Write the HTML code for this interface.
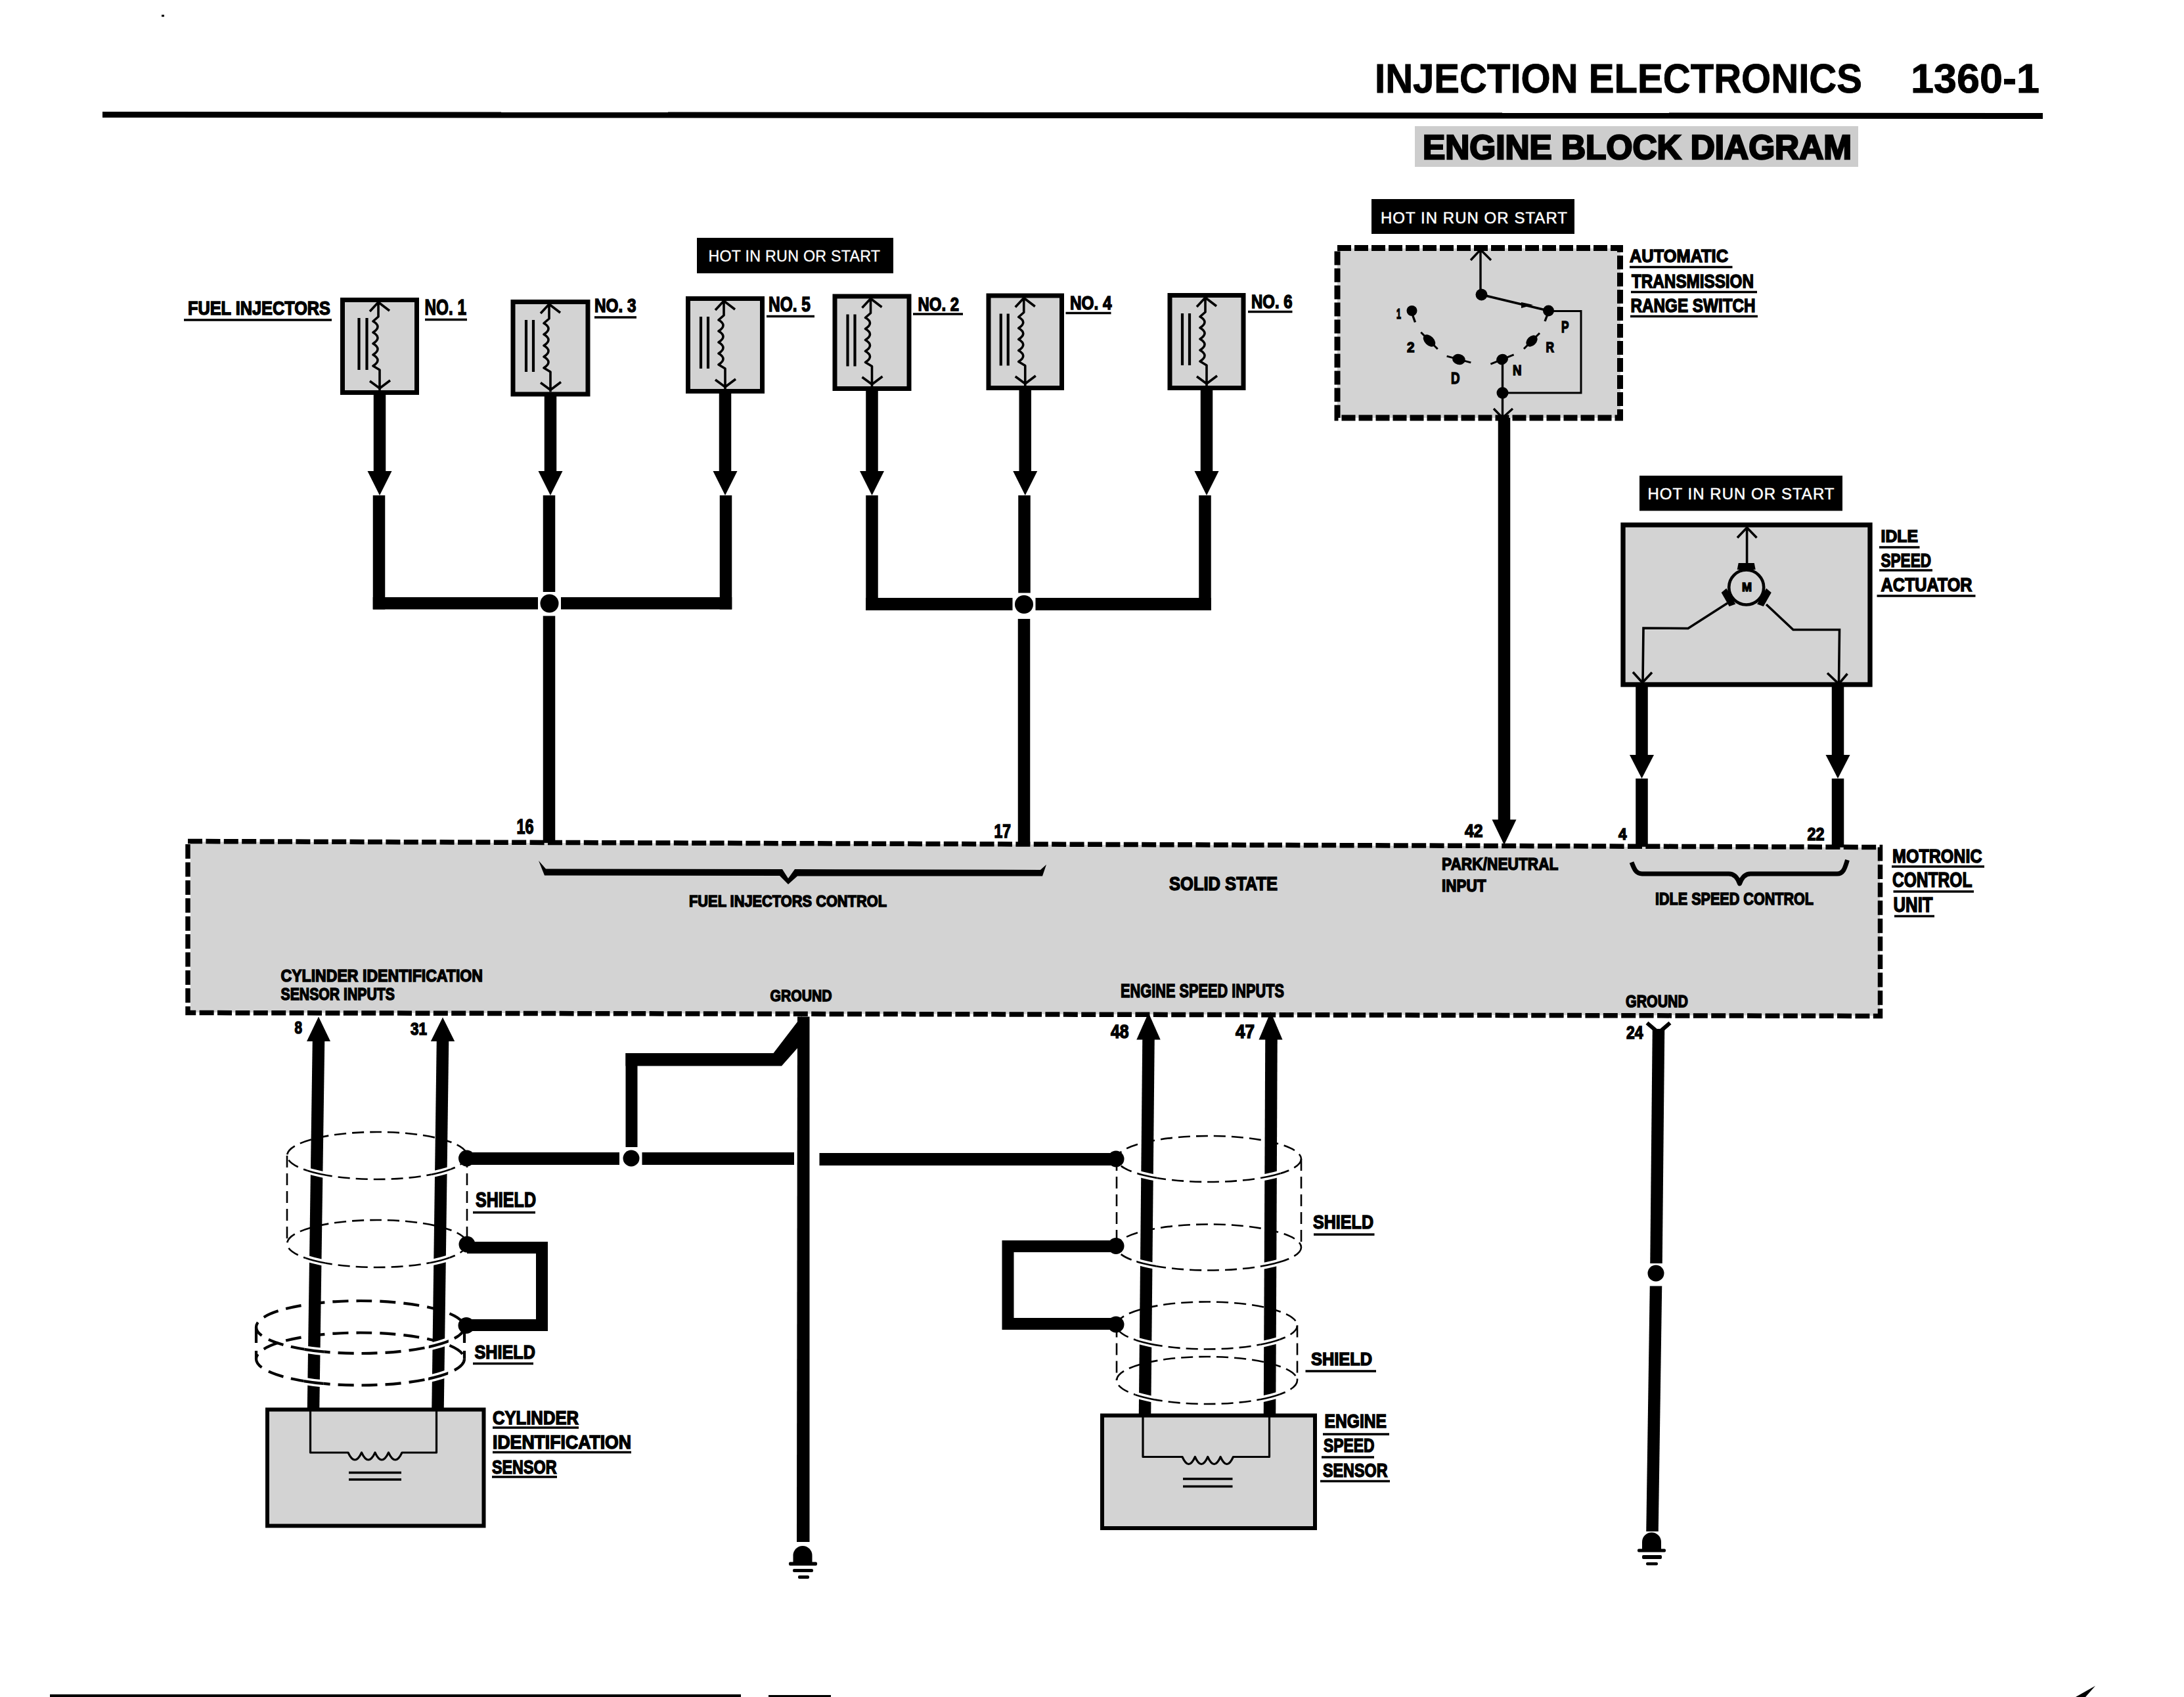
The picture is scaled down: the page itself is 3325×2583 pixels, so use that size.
<!DOCTYPE html>
<html><head><meta charset="utf-8"><title>Engine Block Diagram</title>
<style>
html,body{margin:0;padding:0;background:#fff;}
body{width:3325px;height:2583px;position:relative;overflow:hidden;font-family:"Liberation Sans",sans-serif;}
</style></head><body>
<svg width="3325" height="2583" viewBox="0 0 3325 2583" style="position:absolute;left:0;top:0" font-family="Liberation Sans, sans-serif">
<rect x="0" y="0" width="3325" height="2583" fill="#fff"/>
<text x="2093" y="141" font-size="62.50" font-weight="bold" fill="#000" stroke="#000" stroke-width="0.9" textLength="742" lengthAdjust="spacingAndGlyphs">INJECTION ELECTRONICS</text>
<text x="2909" y="141" font-size="62.50" font-weight="bold" fill="#000" stroke="#000" stroke-width="0.9" textLength="196" lengthAdjust="spacingAndGlyphs">1360-1</text>
<polygon points="156,170 3110,172 3110,181 156,179" fill="#000"/>
<rect x="2154" y="192" width="675" height="62" fill="#cdcdcd"/>
<text x="2166" y="242" font-size="51.60" font-weight="bold" fill="#000" stroke="#000" stroke-width="2.6" textLength="653" lengthAdjust="spacingAndGlyphs">ENGINE BLOCK DIAGRAM</text>
<rect x="568.75" y="599" width="18.5" height="119" fill="#000"/>
<polygon points="559.5,717 596.5,717 578.0,754" fill="#000"/>
<rect x="521.5" y="456.5" width="113" height="141" fill="#d3d3d3" stroke="#000" stroke-width="7"/>
<line x1="546.5" y1="484" x2="546.5" y2="563" stroke="#000" stroke-width="4.2" stroke-linecap="butt"/>
<line x1="558.5" y1="484" x2="558.5" y2="563" stroke="#000" stroke-width="4.2" stroke-linecap="butt"/>
<path d="M563.0,474 L576.0,460 L593.0,473 M576.0,460 L576.0,482 L568.0,489 Q582.0,497 568.0,506 Q582.0,514 568.0,523 Q582.0,531 568.0,540 Q582.0,548 568.0,557 L578.0,563 L578.0,594 M563.0,580 L578.0,591 L594.0,579" fill="none" stroke="#000" stroke-width="3.6" stroke-linecap="butt" stroke-linejoin="round"/>
<text x="646.5" y="479" font-size="33.43" font-weight="bold" fill="#000" stroke="#000" stroke-width="1.5" textLength="63.5" lengthAdjust="spacingAndGlyphs">NO. 1</text>
<rect x="647" y="484.75" width="64" height="3.5"/>
<rect x="828.75" y="601.5" width="18.5" height="116.5" fill="#000"/>
<polygon points="819.5,717 856.5,717 838.0,754" fill="#000"/>
<rect x="781.0" y="459.5" width="114.0" height="140.5" fill="#d3d3d3" stroke="#000" stroke-width="7"/>
<line x1="801.0" y1="487" x2="801.0" y2="566" stroke="#000" stroke-width="4.2" stroke-linecap="butt"/>
<line x1="812.0" y1="487" x2="812.0" y2="566" stroke="#000" stroke-width="4.2" stroke-linecap="butt"/>
<path d="M823.0,477 L836.0,463 L853.0,476 M836.0,463 L836.0,485 L828.0,492 Q842.0,500 828.0,509 Q842.0,517 828.0,526 Q842.0,534 828.0,543 Q842.0,551 828.0,560 L838.0,566 L838.0,596.5 M823.0,582.5 L838.0,593.5 L854.0,581.5" fill="none" stroke="#000" stroke-width="3.6" stroke-linecap="butt" stroke-linejoin="round"/>
<text x="905" y="475" font-size="29.07" font-weight="bold" fill="#000" stroke="#000" stroke-width="1.5" textLength="63.5" lengthAdjust="spacingAndGlyphs">NO. 3</text>
<rect x="905" y="481.25" width="64" height="3.5"/>
<rect x="1094.75" y="597" width="18.5" height="121" fill="#000"/>
<polygon points="1085.5,717 1122.5,717 1104.0,754" fill="#000"/>
<rect x="1047.5" y="454.5" width="113" height="141" fill="#d3d3d3" stroke="#000" stroke-width="7"/>
<line x1="1067.0" y1="482" x2="1067.0" y2="561" stroke="#000" stroke-width="4.2" stroke-linecap="butt"/>
<line x1="1078.0" y1="482" x2="1078.0" y2="561" stroke="#000" stroke-width="4.2" stroke-linecap="butt"/>
<path d="M1089.0,472 L1102.0,458 L1119.0,471 M1102.0,458 L1102.0,480 L1094.0,487 Q1108.0,495 1094.0,504 Q1108.0,512 1094.0,521 Q1108.0,529 1094.0,538 Q1108.0,546 1094.0,555 L1104.0,561 L1104.0,592 M1089.0,578 L1104.0,589 L1120.0,577" fill="none" stroke="#000" stroke-width="3.6" stroke-linecap="butt" stroke-linejoin="round"/>
<text x="1170" y="474" font-size="30.52" font-weight="bold" fill="#000" stroke="#000" stroke-width="1.5" textLength="64" lengthAdjust="spacingAndGlyphs">NO. 5</text>
<rect x="1167" y="479.75" width="73" height="3.5"/>
<rect x="1318.25" y="593" width="18.5" height="125" fill="#000"/>
<polygon points="1309.0,717 1346.0,717 1327.5,754" fill="#000"/>
<rect x="1271.0" y="451.0" width="113.0" height="140.5" fill="#d3d3d3" stroke="#000" stroke-width="7"/>
<line x1="1290.5" y1="478.5" x2="1290.5" y2="557.5" stroke="#000" stroke-width="4.2" stroke-linecap="butt"/>
<line x1="1301.5" y1="478.5" x2="1301.5" y2="557.5" stroke="#000" stroke-width="4.2" stroke-linecap="butt"/>
<path d="M1312.5,468.5 L1325.5,454.5 L1342.5,467.5 M1325.5,454.5 L1325.5,476.5 L1317.5,483.5 Q1331.5,491.5 1317.5,500.5 Q1331.5,508.5 1317.5,517.5 Q1331.5,525.5 1317.5,534.5 Q1331.5,542.5 1317.5,551.5 L1327.5,557.5 L1327.5,588 M1312.5,574 L1327.5,585 L1343.5,573" fill="none" stroke="#000" stroke-width="3.6" stroke-linecap="butt" stroke-linejoin="round"/>
<text x="1397.5" y="472.5" font-size="29.07" font-weight="bold" fill="#000" stroke="#000" stroke-width="1.5" textLength="62.5" lengthAdjust="spacingAndGlyphs">NO. 2</text>
<rect x="1390" y="476.25" width="76" height="3.5"/>
<rect x="1551.5" y="592" width="18.5" height="126" fill="#000"/>
<polygon points="1542.25,717 1579.25,717 1560.75,754" fill="#000"/>
<rect x="1505.0" y="450.0" width="111.5" height="140.5" fill="#d3d3d3" stroke="#000" stroke-width="7"/>
<line x1="1523.75" y1="477.5" x2="1523.75" y2="556.5" stroke="#000" stroke-width="4.2" stroke-linecap="butt"/>
<line x1="1534.75" y1="477.5" x2="1534.75" y2="556.5" stroke="#000" stroke-width="4.2" stroke-linecap="butt"/>
<path d="M1545.75,467.5 L1558.75,453.5 L1575.75,466.5 M1558.75,453.5 L1558.75,475.5 L1550.75,482.5 Q1564.75,490.5 1550.75,499.5 Q1564.75,507.5 1550.75,516.5 Q1564.75,524.5 1550.75,533.5 Q1564.75,541.5 1550.75,550.5 L1560.75,556.5 L1560.75,587 M1545.75,573 L1560.75,584 L1576.75,572" fill="none" stroke="#000" stroke-width="3.6" stroke-linecap="butt" stroke-linejoin="round"/>
<text x="1629" y="471" font-size="29.07" font-weight="bold" fill="#000" stroke="#000" stroke-width="1.5" textLength="63.5" lengthAdjust="spacingAndGlyphs">NO. 4</text>
<rect x="1622.5" y="474.75" width="69.0" height="3.5"/>
<rect x="1827.75" y="592" width="18.5" height="126" fill="#000"/>
<polygon points="1818.5,717 1855.5,717 1837.0,754" fill="#000"/>
<rect x="1781.0" y="449.5" width="112.0" height="141" fill="#d3d3d3" stroke="#000" stroke-width="7"/>
<line x1="1800.0" y1="477" x2="1800.0" y2="556" stroke="#000" stroke-width="4.2" stroke-linecap="butt"/>
<line x1="1811.0" y1="477" x2="1811.0" y2="556" stroke="#000" stroke-width="4.2" stroke-linecap="butt"/>
<path d="M1822.0,467 L1835.0,453 L1852.0,466 M1835.0,453 L1835.0,475 L1827.0,482 Q1841.0,490 1827.0,499 Q1841.0,507 1827.0,516 Q1841.0,524 1827.0,533 Q1841.0,541 1827.0,550 L1837.0,556 L1837.0,587 M1822.0,573 L1837.0,584 L1853.0,572" fill="none" stroke="#000" stroke-width="3.6" stroke-linecap="butt" stroke-linejoin="round"/>
<text x="1905" y="469" font-size="29.07" font-weight="bold" fill="#000" stroke="#000" stroke-width="1.5" textLength="62.5" lengthAdjust="spacingAndGlyphs">NO. 6</text>
<rect x="1900" y="472.75" width="67.5" height="3.5"/>
<text x="286" y="479" font-size="29.80" font-weight="bold" fill="#000" stroke="#000" stroke-width="1.5" textLength="217" lengthAdjust="spacingAndGlyphs">FUEL INJECTORS</text>
<rect x="280" y="485.25" width="225" height="3.5"/>
<rect x="1061" y="362" width="299" height="54" fill="#000"/>
<text x="1078.5" y="398" font-size="23.26" font-weight="normal" fill="#fff" stroke="#fff" stroke-width="0.3" textLength="261.5" lengthAdjust="spacing">HOT IN RUN OR START</text>
<rect x="567.75" y="754" width="18.5" height="173.5" fill="#000"/>
<rect x="1095.75" y="754" width="18.5" height="173.5" fill="#000"/>
<rect x="567.75" y="909" width="251.25" height="18.5" fill="#000"/>
<rect x="854.0" y="909" width="260.25" height="18.5" fill="#000"/>
<rect x="826.75" y="754" width="18.5" height="147.0" fill="#000"/>
<circle cx="836.5" cy="918.5" r="14"/>
<rect x="826.75" y="937.5" width="18.5" height="345.5" fill="#000"/>
<rect x="1318.25" y="754" width="18.5" height="175" fill="#000"/>
<rect x="1825.25" y="754" width="18.5" height="175" fill="#000"/>
<rect x="1318.25" y="910" width="223.25" height="19" fill="#000"/>
<rect x="1576.5" y="910" width="267.25" height="19" fill="#000"/>
<rect x="1550.25" y="754" width="18.5" height="148.5" fill="#000"/>
<circle cx="1559" cy="920" r="14"/>
<rect x="1549.75" y="942" width="18.5" height="344" fill="#000"/>
<rect x="2088" y="303" width="309" height="53" fill="#000"/>
<text x="2102" y="340" font-size="23.98" font-weight="normal" fill="#fff" stroke="#fff" stroke-width="0.5" textLength="284" lengthAdjust="spacing">HOT IN RUN OR START</text>
<rect x="2036" y="378" width="431" height="258" fill="#d3d3d3"/>
<path d="M2036,377.5 L2466.5,377.5 L2466.5,636 L2036,636 Z" fill="none" stroke="#000" stroke-width="9" stroke-linecap="butt" stroke-linejoin="miter" stroke-dasharray="21 5"/>
<path d="M2239,396 L2254,380 L2270,396 M2254,380 L2254,448" fill="none" stroke="#000" stroke-width="3.4" stroke-linecap="butt" stroke-linejoin="miter"/>
<circle cx="2255.5" cy="448.5" r="9"/>
<path d="M2255.5,448.5 L2357.5,473" fill="none" stroke="#000" stroke-width="3.6" stroke-linecap="butt" stroke-linejoin="miter"/>
<polygon points="2316,460 2334,464 2316,469" fill="#000"/>
<circle cx="2357.5" cy="473" r="8.5"/>
<path d="M2357,476 L2352,489" fill="none" stroke="#000" stroke-width="3.4" stroke-linecap="butt" stroke-linejoin="miter"/>
<path d="M2365,473.5 L2407,473.5 L2407,598 L2287.5,598" fill="none" stroke="#000" stroke-width="3" stroke-linecap="butt" stroke-linejoin="miter"/>
<circle cx="2287.5" cy="598" r="9"/>
<path d="M2287.5,547 L2287.5,640" fill="none" stroke="#000" stroke-width="3.4" stroke-linecap="butt" stroke-linejoin="miter"/>
<path d="M2274,622 L2287.5,636 L2303,622" fill="none" stroke="#000" stroke-width="3.4" stroke-linecap="butt" stroke-linejoin="miter"/>
<circle cx="2149.5" cy="473" r="8"/>
<path d="M2150,478 L2154.5,490.5" fill="none" stroke="#000" stroke-width="3.4" stroke-linecap="butt" stroke-linejoin="miter"/>
<g transform="translate(2176,518.5) rotate(45)"><ellipse cx="0" cy="0" rx="11" ry="7"/><line x1="-18" y1="0" x2="18" y2="0" stroke="#000" stroke-width="3"/></g>
<g transform="translate(2221,547) rotate(15)"><ellipse cx="0" cy="0" rx="10" ry="8"/><line x1="-19" y1="0" x2="19" y2="0" stroke="#000" stroke-width="3"/></g>
<g transform="translate(2287,547) rotate(-22)"><ellipse cx="0" cy="0" rx="9" ry="8"/><line x1="-19" y1="0" x2="19" y2="0" stroke="#000" stroke-width="3"/></g>
<g transform="translate(2332,519) rotate(-45)"><ellipse cx="0" cy="0" rx="10" ry="7"/><line x1="-17" y1="0" x2="17" y2="0" stroke="#000" stroke-width="3"/></g>
<text x="2126" y="485" font-size="21.80" font-weight="bold" fill="#000" stroke="#000" stroke-width="1.5" textLength="7" lengthAdjust="spacingAndGlyphs">1</text>
<text x="2142" y="536" font-size="22.53" font-weight="bold" fill="#000" stroke="#000" stroke-width="1.5" textLength="11.5" lengthAdjust="spacingAndGlyphs">2</text>
<text x="2209" y="584" font-size="24.71" font-weight="bold" fill="#000" stroke="#000" stroke-width="1.5" textLength="13.5" lengthAdjust="spacingAndGlyphs">D</text>
<text x="2303" y="571" font-size="22.53" font-weight="bold" fill="#000" stroke="#000" stroke-width="1.5" textLength="13.5" lengthAdjust="spacingAndGlyphs">N</text>
<text x="2353.5" y="536" font-size="22.53" font-weight="bold" fill="#000" stroke="#000" stroke-width="1.5" textLength="12.5" lengthAdjust="spacingAndGlyphs">R</text>
<text x="2377" y="506" font-size="23.26" font-weight="bold" fill="#000" stroke="#000" stroke-width="1.5" textLength="11.5" lengthAdjust="spacingAndGlyphs">P</text>
<text x="2481" y="399" font-size="27.62" font-weight="bold" fill="#000" stroke="#000" stroke-width="1.5" textLength="150" lengthAdjust="spacingAndGlyphs">AUTOMATIC</text>
<rect x="2481" y="404.75" width="156.5" height="3.5"/>
<text x="2484" y="437.5" font-size="29.07" font-weight="bold" fill="#000" stroke="#000" stroke-width="1.5" textLength="186" lengthAdjust="spacingAndGlyphs">TRANSMISSION</text>
<rect x="2483" y="442.75" width="192" height="3.5"/>
<text x="2482.5" y="475" font-size="29.07" font-weight="bold" fill="#000" stroke="#000" stroke-width="1.5" textLength="190.0" lengthAdjust="spacingAndGlyphs">RANGE SWITCH</text>
<rect x="2482" y="479.75" width="194" height="3.5"/>
<rect x="2280.75" y="636" width="18.5" height="612" fill="#000"/>
<polygon points="2271.5,1247.5 2308.5,1247.5 2290,1286" fill="#000"/>
<rect x="2496" y="724" width="309" height="53.5" fill="#000"/>
<text x="2508.5" y="759.5" font-size="23.98" font-weight="normal" fill="#fff" stroke="#fff" stroke-width="0.5" textLength="284.0" lengthAdjust="spacing">HOT IN RUN OR START</text>
<rect x="2490.25" y="1040" width="18.5" height="110" fill="#000"/>
<polygon points="2481.0,1149 2518.0,1149 2499.5,1185" fill="#000"/>
<rect x="2788.75" y="1040" width="18.5" height="110" fill="#000"/>
<polygon points="2779.5,1149 2816.5,1149 2798,1185" fill="#000"/>
<rect x="2490.25" y="1185" width="18.5" height="106" fill="#000"/>
<rect x="2788.75" y="1185" width="18.5" height="106" fill="#000"/>
<rect x="2471" y="799" width="376" height="243" fill="#d3d3d3" stroke="#000" stroke-width="7.3"/>
<path d="M2645,818.5 L2659.6,803 L2674.5,818.5 M2659.6,803 L2659.6,866" fill="none" stroke="#000" stroke-width="3.6" stroke-linecap="butt" stroke-linejoin="miter"/>
<circle cx="2658.7" cy="894" r="26.5" fill="none" stroke="#000" stroke-width="4.6"/>
<g transform="translate(2658.7,894) rotate(-90)"><path d="M27,-14 L37,-12 L37,12 L27,14 Z"/></g>
<g transform="translate(2658.7,894) rotate(150)"><path d="M27,-14 L37,-12 L37,12 L27,14 Z"/></g>
<g transform="translate(2658.7,894) rotate(30)"><path d="M27,-14 L37,-12 L37,12 L27,14 Z"/></g>
<path d="M2630,918 L2570,956.5 L2502,956 L2501,1039" fill="none" stroke="#000" stroke-width="3.6" stroke-linecap="butt" stroke-linejoin="miter"/>
<path d="M2486,1023 L2500.5,1039 L2515,1023.5" fill="none" stroke="#000" stroke-width="3.6" stroke-linecap="butt" stroke-linejoin="miter"/>
<path d="M2689,920 L2730,958.5 L2800.5,958.5 L2799.5,1041" fill="none" stroke="#000" stroke-width="3.6" stroke-linecap="butt" stroke-linejoin="miter"/>
<path d="M2782,1024.5 L2799.5,1041 L2812.5,1025.5" fill="none" stroke="#000" stroke-width="3.6" stroke-linecap="butt" stroke-linejoin="miter"/>
<text x="2652" y="900" font-size="18.17" font-weight="bold" fill="#000" stroke="#000" stroke-width="1.5" textLength="15" lengthAdjust="spacingAndGlyphs">M</text>
<text x="2863.5" y="825" font-size="25.44" font-weight="bold" fill="#000" stroke="#000" stroke-width="1.5" textLength="56.5" lengthAdjust="spacingAndGlyphs">IDLE</text>
<rect x="2861" y="831.25" width="61.5" height="3.5"/>
<text x="2863.5" y="862.5" font-size="29.07" font-weight="bold" fill="#000" stroke="#000" stroke-width="1.5" textLength="76.5" lengthAdjust="spacingAndGlyphs">SPEED</text>
<rect x="2861" y="866.25" width="81" height="3.5"/>
<text x="2863.5" y="900" font-size="29.07" font-weight="bold" fill="#000" stroke="#000" stroke-width="1.5" textLength="139.0" lengthAdjust="spacingAndGlyphs">ACTUATOR</text>
<rect x="2857.5" y="905.25" width="150.0" height="3.5"/>
<polygon points="290,1281 2862,1290 2862,1546 290,1541" fill="#d3d3d3"/>
<path d="M286,1280.5 L2862.5,1289.5 L2862.5,1546.5 L286,1541.5 Z" fill="none" stroke="#000" stroke-width="7.5" stroke-linecap="butt" stroke-linejoin="miter" stroke-dasharray="22 5.4"/>
<text x="786.5" y="1268.5" font-size="30.52" font-weight="bold" fill="#000" stroke="#000" stroke-width="1.5" textLength="26.0" lengthAdjust="spacingAndGlyphs">16</text>
<text x="1513.5" y="1275" font-size="29.07" font-weight="bold" fill="#000" stroke="#000" stroke-width="1.5" textLength="25.5" lengthAdjust="spacingAndGlyphs">17</text>
<text x="2230" y="1274" font-size="27.62" font-weight="bold" fill="#000" stroke="#000" stroke-width="1.5" textLength="27.5" lengthAdjust="spacingAndGlyphs">42</text>
<text x="2464" y="1277.5" font-size="23.98" font-weight="bold" fill="#000" stroke="#000" stroke-width="1.5" textLength="12.5" lengthAdjust="spacingAndGlyphs">4</text>
<text x="2751.5" y="1279" font-size="27.62" font-weight="bold" fill="#000" stroke="#000" stroke-width="1.5" textLength="26.0" lengthAdjust="spacingAndGlyphs">22</text>
<polygon points="820,1310 831,1322.5 1191,1323 1200,1337 1210,1323 1584,1324 1593,1316 1587,1333.5 1214,1333.5 1200,1346 1187,1333 829,1332.5" fill="#000"/>
<path d="M2484,1312.5 C2488,1322 2490,1330 2500,1330 L2632,1330 C2642,1330 2646,1338 2648.5,1345 C2651,1338 2655,1330 2665,1330 L2797,1330 C2807,1330 2809,1320 2812.5,1309" fill="none" stroke="#000" stroke-width="7" stroke-linecap="butt" stroke-linejoin="round"/>
<text x="1049" y="1380" font-size="23.98" font-weight="bold" fill="#000" stroke="#000" stroke-width="1.5" textLength="301" lengthAdjust="spacingAndGlyphs">FUEL INJECTORS CONTROL</text>
<text x="1780" y="1355" font-size="29.07" font-weight="bold" fill="#000" stroke="#000" stroke-width="1.5" textLength="165" lengthAdjust="spacingAndGlyphs">SOLID STATE</text>
<text x="2195" y="1324" font-size="25.44" font-weight="bold" fill="#000" stroke="#000" stroke-width="1.5" textLength="177.5" lengthAdjust="spacingAndGlyphs">PARK/NEUTRAL</text>
<text x="2195" y="1356.5" font-size="25.44" font-weight="bold" fill="#000" stroke="#000" stroke-width="1.5" textLength="67.5" lengthAdjust="spacingAndGlyphs">INPUT</text>
<text x="2520" y="1376.5" font-size="25.44" font-weight="bold" fill="#000" stroke="#000" stroke-width="1.5" textLength="241" lengthAdjust="spacingAndGlyphs">IDLE SPEED CONTROL</text>
<text x="427.5" y="1493.5" font-size="25.44" font-weight="bold" fill="#000" stroke="#000" stroke-width="1.5" textLength="307.5" lengthAdjust="spacingAndGlyphs">CYLINDER IDENTIFICATION</text>
<text x="427.5" y="1521.5" font-size="25.44" font-weight="bold" fill="#000" stroke="#000" stroke-width="1.5" textLength="173.5" lengthAdjust="spacingAndGlyphs">SENSOR INPUTS</text>
<text x="1172.5" y="1524" font-size="23.98" font-weight="bold" fill="#000" stroke="#000" stroke-width="1.5" textLength="94.0" lengthAdjust="spacingAndGlyphs">GROUND</text>
<text x="1706" y="1517.5" font-size="29.07" font-weight="bold" fill="#000" stroke="#000" stroke-width="1.5" textLength="249" lengthAdjust="spacingAndGlyphs">ENGINE SPEED INPUTS</text>
<text x="2475" y="1532.5" font-size="25.44" font-weight="bold" fill="#000" stroke="#000" stroke-width="1.5" textLength="95" lengthAdjust="spacingAndGlyphs">GROUND</text>
<text x="2881" y="1312.5" font-size="29.07" font-weight="bold" fill="#000" stroke="#000" stroke-width="1.5" textLength="136.5" lengthAdjust="spacingAndGlyphs">MOTRONIC</text>
<rect x="2880" y="1317.25" width="141" height="3.5"/>
<text x="2881" y="1350" font-size="30.52" font-weight="bold" fill="#000" stroke="#000" stroke-width="1.5" textLength="121.5" lengthAdjust="spacingAndGlyphs">CONTROL</text>
<rect x="2882.5" y="1355.25" width="122.5" height="3.5"/>
<text x="2882.5" y="1387.5" font-size="31.25" font-weight="bold" fill="#000" stroke="#000" stroke-width="1.5" textLength="60.0" lengthAdjust="spacingAndGlyphs">UNIT</text>
<rect x="2884" y="1392.75" width="61" height="3.5"/>
<text x="448.5" y="1572.5" font-size="25.44" font-weight="bold" fill="#000" stroke="#000" stroke-width="1.5" textLength="11.5" lengthAdjust="spacingAndGlyphs">8</text>
<text x="625" y="1575" font-size="25.44" font-weight="bold" fill="#000" stroke="#000" stroke-width="1.5" textLength="25" lengthAdjust="spacingAndGlyphs">31</text>
<text x="1691" y="1580" font-size="29.07" font-weight="bold" fill="#000" stroke="#000" stroke-width="1.5" textLength="27.5" lengthAdjust="spacingAndGlyphs">48</text>
<text x="1881" y="1580" font-size="29.07" font-weight="bold" fill="#000" stroke="#000" stroke-width="1.5" textLength="29" lengthAdjust="spacingAndGlyphs">47</text>
<text x="2476" y="1581" font-size="26.89" font-weight="bold" fill="#000" stroke="#000" stroke-width="1.5" textLength="25.5" lengthAdjust="spacingAndGlyphs">24</text>
<polygon points="467,1585 503,1585 485,1547.5" fill="#000"/>
<polygon points="475.75,1584 494.25,1584 486.25,2146 467.75,2146" fill="#000"/>
<polygon points="655.8,1585 692.2,1585 674,1548.5" fill="#000"/>
<polygon points="664.75,1584 683.25,1584 675.75,2146 657.25,2146" fill="#000"/>
<polygon points="1730.3,1582.5 1766.7,1582.5 1748.5,1541.5" fill="#000"/>
<polygon points="1739.25,1581.5 1757.75,1581.5 1752.25,2155 1733.75,2155" fill="#000"/>
<polygon points="1916.5,1582.5 1952.5,1582.5 1934.5,1540" fill="#000"/>
<polygon points="1926.25,1581.5 1944.75,1581.5 1942.25,2155 1923.75,2155" fill="#000"/>
<polygon points="2515.75,1566 2534.25,1566 2530.75,1923 2512.25,1923" fill="#000"/>
<polygon points="2511.75,1957.5 2530.25,1957.5 2524.75,2331 2506.25,2331" fill="#000"/>
<path d="M2507.5,1557 L2525,1572 L2542.5,1557" fill="none" stroke="#000" stroke-width="6" stroke-linecap="butt" stroke-linejoin="miter"/>
<circle cx="2521" cy="1938" r="12.5"/>
<polygon points="1214,1547.5 1232.5,1547.5 1232.5,2347 1213,2347" fill="#000"/>
<polygon points="1177.5,1603 1220,1547.5 1232,1552 1232,1575 1190,1622.5 952.5,1622.5 952.5,1603" fill="#000"/>
<rect x="952.5" y="1603" width="18.0" height="143" fill="#000"/>
<circle cx="961" cy="1763" r="12.5"/>
<path d="M1207.5,2367.5 A14.5,14.5 0 0 1 1236.5,2367.5 L1236.5,2378.5 L1207.5,2378.5 Z"/>
<rect x="1201" y="2377.5" width="43" height="5.5" rx="2"/>
<rect x="1207" y="2388" width="31" height="5" rx="2"/>
<rect x="1215" y="2398" width="17" height="5" rx="2"/>
<path d="M2500.0,2347 A14.5,14.5 0 0 1 2529.0,2347 L2529.0,2358 L2500.0,2358 Z"/>
<rect x="2493" y="2357.5" width="43" height="5.0" rx="2"/>
<rect x="2500" y="2367" width="30" height="6" rx="2"/>
<rect x="2506" y="2378" width="18" height="4.5" rx="2"/>
<rect x="710" y="1754" width="233" height="19" fill="#000"/>
<rect x="977.5" y="1754" width="231.5" height="19" fill="#000"/>
<rect x="1247.5" y="1755" width="451.5" height="19" fill="#000"/>
<circle cx="710.5" cy="1763" r="12.5"/>
<circle cx="1699" cy="1764" r="12.5"/>
<circle cx="711" cy="1894" r="12.5"/>
<circle cx="710" cy="2017.5" r="12.5"/>
<path d="M711,1899 L825,1899 L825,2017 L710,2017" fill="none" stroke="#000" stroke-width="18" stroke-linecap="butt" stroke-linejoin="miter"/>
<circle cx="1699" cy="1896.5" r="12.5"/>
<circle cx="1699" cy="2016" r="12.5"/>
<path d="M1699,1897 L1534.5,1897 L1534.5,2015 L1699,2015" fill="none" stroke="#000" stroke-width="18" stroke-linecap="butt" stroke-linejoin="miter"/>
<ellipse cx="574" cy="1759" rx="137" ry="36" fill="none" stroke="#000" stroke-width="2.6" stroke-dasharray="18 9"/>
<ellipse cx="574" cy="1893" rx="137" ry="36" fill="none" stroke="#000" stroke-width="2.6" stroke-dasharray="18 9"/>
<line x1="437" y1="1759" x2="437" y2="1893" stroke="#000" stroke-width="2.6" stroke-linecap="butt" stroke-dasharray="18 9"/>
<line x1="711" y1="1759" x2="711" y2="1893" stroke="#000" stroke-width="2.6" stroke-linecap="butt" stroke-dasharray="18 9"/>
<clipPath id="wc1"><polygon points="470,1584 500,1584 492,2146 462,2146"/><polygon points="659,1584 689,1584 681.5,2146 651.5,2146"/></clipPath>
<g clip-path="url(#wc1)">
<path d="M437,1759 A137,36 0 0 0 711,1759" fill="none" stroke="#fff" stroke-width="9.6"/>
<path d="M437,1759 A137,36 0 0 0 711,1759" fill="none" stroke="#000" stroke-width="2.6"/>
<path d="M437,1893 A137,36 0 0 0 711,1893" fill="none" stroke="#fff" stroke-width="9.6"/>
<path d="M437,1893 A137,36 0 0 0 711,1893" fill="none" stroke="#000" stroke-width="2.6"/>
</g>
<ellipse cx="548.5" cy="2020" rx="158.5" ry="40" fill="none" stroke="#000" stroke-width="4.2" stroke-dasharray="24 12"/>
<ellipse cx="548.5" cy="2068.5" rx="158.5" ry="40" fill="none" stroke="#000" stroke-width="4.2" stroke-dasharray="24 12"/>
<line x1="390.0" y1="2020" x2="390.0" y2="2068.5" stroke="#000" stroke-width="4.2" stroke-linecap="butt" stroke-dasharray="24 12"/>
<line x1="707.0" y1="2020" x2="707.0" y2="2068.5" stroke="#000" stroke-width="4.2" stroke-linecap="butt" stroke-dasharray="24 12"/>
<clipPath id="wc2"><polygon points="470,1584 500,1584 492,2146 462,2146"/><polygon points="659,1584 689,1584 681.5,2146 651.5,2146"/></clipPath>
<g clip-path="url(#wc2)">
<path d="M390.0,2020 A158.5,40 0 0 0 707.0,2020" fill="none" stroke="#fff" stroke-width="11.2"/>
<path d="M390.0,2020 A158.5,40 0 0 0 707.0,2020" fill="none" stroke="#000" stroke-width="4.2"/>
<path d="M390.0,2068.5 A158.5,40 0 0 0 707.0,2068.5" fill="none" stroke="#fff" stroke-width="11.2"/>
<path d="M390.0,2068.5 A158.5,40 0 0 0 707.0,2068.5" fill="none" stroke="#000" stroke-width="4.2"/>
</g>
<ellipse cx="1840.5" cy="1764" rx="140.5" ry="35" fill="none" stroke="#000" stroke-width="2.6" stroke-dasharray="18 9"/>
<ellipse cx="1840.5" cy="1898.5" rx="140.5" ry="35" fill="none" stroke="#000" stroke-width="2.6" stroke-dasharray="18 9"/>
<line x1="1700.0" y1="1764" x2="1700.0" y2="1898.5" stroke="#000" stroke-width="2.6" stroke-linecap="butt" stroke-dasharray="18 9"/>
<line x1="1981.0" y1="1764" x2="1981.0" y2="1898.5" stroke="#000" stroke-width="2.6" stroke-linecap="butt" stroke-dasharray="18 9"/>
<clipPath id="wc3"><polygon points="1733.5,1581.5 1763.5,1581.5 1758,2155 1728,2155"/><polygon points="1920.5,1581.5 1950.5,1581.5 1948,2155 1918,2155"/></clipPath>
<g clip-path="url(#wc3)">
<path d="M1700.0,1764 A140.5,35 0 0 0 1981.0,1764" fill="none" stroke="#fff" stroke-width="9.6"/>
<path d="M1700.0,1764 A140.5,35 0 0 0 1981.0,1764" fill="none" stroke="#000" stroke-width="2.6"/>
<path d="M1700.0,1898.5 A140.5,35 0 0 0 1981.0,1898.5" fill="none" stroke="#fff" stroke-width="9.6"/>
<path d="M1700.0,1898.5 A140.5,35 0 0 0 1981.0,1898.5" fill="none" stroke="#000" stroke-width="2.6"/>
</g>
<ellipse cx="1837.5" cy="2017.5" rx="137.5" ry="36" fill="none" stroke="#000" stroke-width="2.6" stroke-dasharray="18 9"/>
<ellipse cx="1837.5" cy="2101" rx="137.5" ry="36" fill="none" stroke="#000" stroke-width="2.6" stroke-dasharray="18 9"/>
<line x1="1700.0" y1="2017.5" x2="1700.0" y2="2101" stroke="#000" stroke-width="2.6" stroke-linecap="butt" stroke-dasharray="18 9"/>
<line x1="1975.0" y1="2017.5" x2="1975.0" y2="2101" stroke="#000" stroke-width="2.6" stroke-linecap="butt" stroke-dasharray="18 9"/>
<clipPath id="wc4"><polygon points="1733.5,1581.5 1763.5,1581.5 1758,2155 1728,2155"/><polygon points="1920.5,1581.5 1950.5,1581.5 1948,2155 1918,2155"/></clipPath>
<g clip-path="url(#wc4)">
<path d="M1700.0,2017.5 A137.5,36 0 0 0 1975.0,2017.5" fill="none" stroke="#fff" stroke-width="9.6"/>
<path d="M1700.0,2017.5 A137.5,36 0 0 0 1975.0,2017.5" fill="none" stroke="#000" stroke-width="2.6"/>
<path d="M1700.0,2101 A137.5,36 0 0 0 1975.0,2101" fill="none" stroke="#fff" stroke-width="9.6"/>
<path d="M1700.0,2101 A137.5,36 0 0 0 1975.0,2101" fill="none" stroke="#000" stroke-width="2.6"/>
</g>
<text x="724" y="1836.5" font-size="31.25" font-weight="bold" fill="#000" stroke="#000" stroke-width="1.5" textLength="92" lengthAdjust="spacingAndGlyphs">SHIELD</text>
<rect x="720" y="1843.75" width="95" height="3.5"/>
<text x="722.5" y="2067.5" font-size="29.07" font-weight="bold" fill="#000" stroke="#000" stroke-width="1.5" textLength="92.5" lengthAdjust="spacingAndGlyphs">SHIELD</text>
<rect x="720" y="2073.75" width="92" height="3.5"/>
<text x="1999" y="1870" font-size="29.07" font-weight="bold" fill="#000" stroke="#000" stroke-width="1.5" textLength="92" lengthAdjust="spacingAndGlyphs">SHIELD</text>
<rect x="2000" y="1877.25" width="92.5" height="3.5"/>
<text x="1996" y="2077.5" font-size="26.89" font-weight="bold" fill="#000" stroke="#000" stroke-width="1.5" textLength="93" lengthAdjust="spacingAndGlyphs">SHIELD</text>
<rect x="1987.5" y="2085.25" width="107.5" height="3.5"/>
<rect x="407" y="2145.5" width="329.5" height="177.0" fill="#d3d3d3" stroke="#000" stroke-width="6"/>
<path d="M472.5,2142.5 L472.5,2211 L530,2211 Q540.25,2233 550.5,2211 Q560.75,2233 571.0,2211 Q581.25,2233 591.5,2211 Q601.75,2233 612.0,2211 L664.5,2211 L664.5,2142.5" fill="none" stroke="#000" stroke-width="3.2" stroke-linecap="butt" stroke-linejoin="round"/>
<line x1="531" y1="2241.5" x2="611" y2="2241.5" stroke="#000" stroke-width="3.4" stroke-linecap="butt"/>
<line x1="531" y1="2252" x2="611" y2="2252" stroke="#000" stroke-width="3.4" stroke-linecap="butt"/>
<rect x="1678" y="2154.5" width="324" height="171.5" fill="#d3d3d3" stroke="#000" stroke-width="6"/>
<path d="M1740,2151.5 L1740,2217.5 L1800,2217.5 Q1809.6875,2239.5 1819.375,2217.5 Q1829.0625,2239.5 1838.75,2217.5 Q1848.4375,2239.5 1858.125,2217.5 Q1867.8125,2239.5 1877.5,2217.5 L1932.5,2217.5 L1932.5,2151.5" fill="none" stroke="#000" stroke-width="3.2" stroke-linecap="butt" stroke-linejoin="round"/>
<line x1="1801" y1="2251" x2="1876.5" y2="2251" stroke="#000" stroke-width="3.4" stroke-linecap="butt"/>
<line x1="1801" y1="2262.5" x2="1876.5" y2="2262.5" stroke="#000" stroke-width="3.4" stroke-linecap="butt"/>
<text x="750" y="2167.5" font-size="29.07" font-weight="bold" fill="#000" stroke="#000" stroke-width="1.5" textLength="131" lengthAdjust="spacingAndGlyphs">CYLINDER</text>
<rect x="750" y="2171.25" width="131" height="3.5"/>
<text x="750" y="2205" font-size="29.07" font-weight="bold" fill="#000" stroke="#000" stroke-width="1.5" textLength="211" lengthAdjust="spacingAndGlyphs">IDENTIFICATION</text>
<rect x="750" y="2208.75" width="211" height="3.5"/>
<text x="749" y="2242.5" font-size="29.07" font-weight="bold" fill="#000" stroke="#000" stroke-width="1.5" textLength="98.5" lengthAdjust="spacingAndGlyphs">SENSOR</text>
<rect x="749" y="2246.25" width="99" height="3.5"/>
<text x="2016.5" y="2172.5" font-size="29.07" font-weight="bold" fill="#000" stroke="#000" stroke-width="1.5" textLength="94.5" lengthAdjust="spacingAndGlyphs">ENGINE</text>
<rect x="2014" y="2181.25" width="101" height="3.5"/>
<text x="2015" y="2210" font-size="29.07" font-weight="bold" fill="#000" stroke="#000" stroke-width="1.5" textLength="77.5" lengthAdjust="spacingAndGlyphs">SPEED</text>
<rect x="2012" y="2216.25" width="80" height="3.5"/>
<text x="2014" y="2247.5" font-size="29.07" font-weight="bold" fill="#000" stroke="#000" stroke-width="1.5" textLength="98.5" lengthAdjust="spacingAndGlyphs">SENSOR</text>
<rect x="2010" y="2252.75" width="106" height="3.5"/>
<rect x="246" y="22.5" width="4" height="3.0" fill="#000"/>
<rect x="76" y="2579" width="1052" height="4" fill="#000"/>
<rect x="1170" y="2580" width="95" height="3" fill="#000"/>
<polygon points="3160,2583 3190,2566 3175,2583" fill="#000"/>
</svg>
</body></html>
